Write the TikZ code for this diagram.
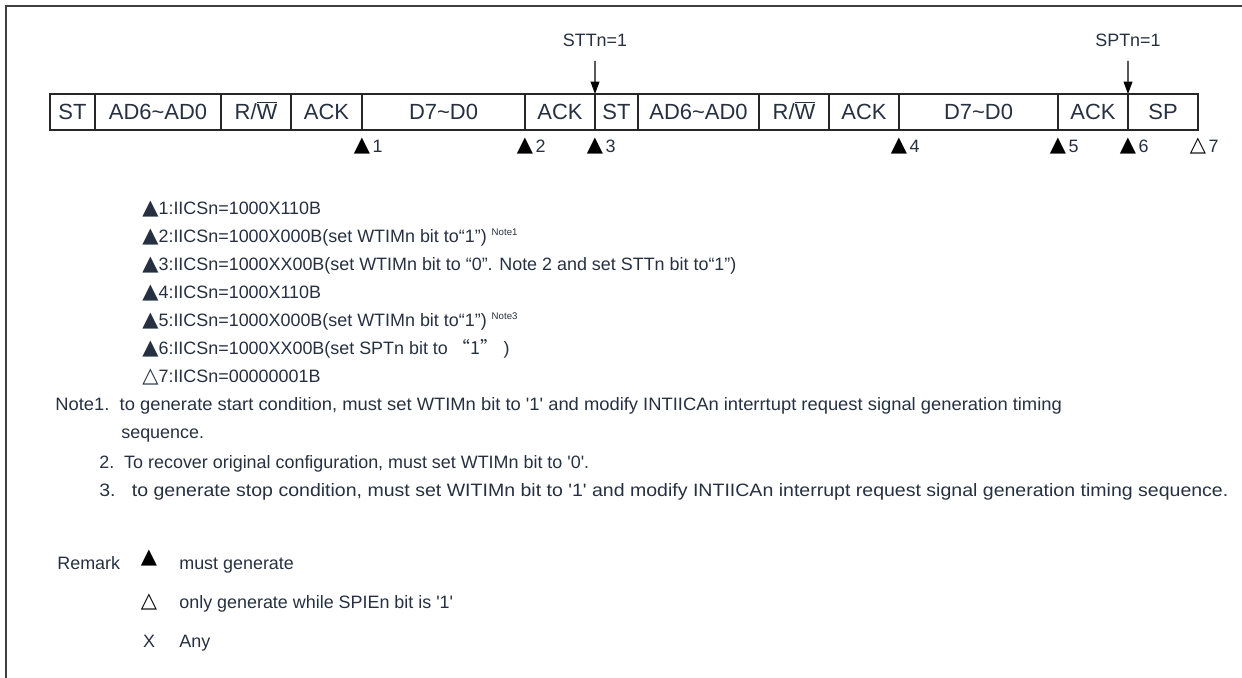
\documentclass[tikz,border=0pt]{standalone}
\usepackage{fontspec}
\setmainfont{Liberation Sans}[Ligatures=TeXOff]
\newfontfamily\sym{DejaVu Sans}
\newfontfamily\cjk{Noto Sans CJK SC}
\usetikzlibrary{arrows.meta, positioning}
\definecolor{ink}{RGB}{38,48,64}
\newcommand\tri[1]{{\sym\fontsize{12}{12}\selectfont #1}}

\begin{document}
\begin{tikzpicture}[x=0.02cm, y=-0.02cm,
        seg/.style={draw=black!85, line width=0.6pt, minimum height=0.72cm, inner sep=0pt, outer sep=0pt, text=ink, font=\fontsize{12.5}{14}\selectfont, text height=9pt, text depth=0pt},
        txt/.style={anchor=west, inner sep=0pt, text=ink, font=\fontsize{10.2}{12}\selectfont, text height=7.3pt, text depth=0pt},
        mk/.style={inner sep=0pt, text=black, font=\sym\fontsize{12}{12}\selectfont},
        arr/.style={-{Triangle[length=7pt, width=5pt]}, line width=0.6pt}
      ]
        \useasboundingbox (0,0) rectangle (1242,678);
        \draw[line width=0.8pt, black!75] (6,678) -- (6,6) -- (1242,6);

        % frame sequence
        \node[seg, minimum width=0.90cm] (st1) at (72.5,112) {ST};
        \node[seg, minimum width=2.52cm] (ad1) at (158,112) {AD6\textasciitilde AD0};
        \node[seg, minimum width=1.40cm] (rw1) at (256,112) {R/$\overline{\hbox{W}}$};
        \node[seg, minimum width=1.42cm] (ak1) at (326.5,112) {ACK};
        \node[seg, minimum width=3.26cm] (d1) at (443.5,112) {D7\textasciitilde D0};
        \node[seg, minimum width=1.40cm] (ak2) at (560,112) {ACK};
        \node[seg, minimum width=0.86cm] (st2) at (616.5,112) {ST};
        \node[seg, minimum width=2.42cm] (ad2) at (698.5,112) {AD6\textasciitilde AD0};
        \node[seg, minimum width=1.40cm] (rw2) at (794,112) {R/$\overline{\hbox{W}}$};
        \node[seg, minimum width=1.40cm] (ak3) at (864,112) {ACK};
        \node[seg, minimum width=3.18cm] (d2) at (978.5,112) {D7\textasciitilde D0};
        \node[seg, minimum width=1.40cm] (ak4) at (1093,112) {ACK};
        \node[seg, minimum width=1.40cm] (sp) at (1163,112) {SP};

        \node[txt, anchor=center] (stt) at (595,40) {STTn=1};
        \node[txt, anchor=center] (spt) at (1128,40) {SPTn=1};
        \draw[arr, shorten <=8pt] (stt) -- (st2.north west);
        \draw[arr, shorten <=8pt] (spt) -- (sp.north west);

        % interrupt points
        \foreach \i/\x in {1/362, 2/525, 3/595, 4/899, 5/1058, 6/1128} {
          \node[mk] (t\i) at (\x,146) {▲};
          \node[txt, right=1pt of t\i] (k\i) {\i};
        }
        \node[mk] (t7) at (1198,146) {△};
        \node[txt, right=1pt of t7] (k7) {7};

        % register settings
        \node[txt] (l1) at (142,208) {\tri{▲}1:IICSn=1000X110B};
        \node[txt] (l2) at (142,236) {\tri{▲}2:IICSn=1000X000B(set WTIMn bit to“1”) \raisebox{4pt}{\fontsize{5.5}{6}\selectfont Note1}};
        \node[txt] (l3) at (142,264) {\tri{▲}3:IICSn=1000XX00B(set WTIMn bit to “0”. Note 2 and set STTn bit to“1”)};
        \node[txt] (l4) at (142,292) {\tri{▲}4:IICSn=1000X110B};
        \node[txt] (l5) at (142,320) {\tri{▲}5:IICSn=1000X000B(set WTIMn bit to“1”) \raisebox{4pt}{\fontsize{5.5}{6}\selectfont Note3}};
        \node[txt] (l6) at (142,348) {\tri{▲}6:IICSn=1000XX00B(set SPTn bit to {\cjk “1”} )};
        \node[txt] (l7) at (142,376) {\tri{△}7:IICSn=00000001B};

        % notes
        \node[txt] (n1) at (55,404) {\scalebox{1.025}[1]{Note1.\ \ to generate start condition, must set WTIMn bit to '1' and modify INTIICAn interrtupt request signal generation timing}};
        \node[txt] (n1b) at (121,432) {sequence.};
        \node[txt] (n2) at (99,462) {2.\ \ To recover original configuration, must set WTIMn bit to '0'.};
        \node[txt] (n3) at (99,490) {\scalebox{1.09}[1]{3.\ \ \ to generate stop condition, must set WITIMn bit to '1' and modify INTIICAn interrupt request signal generation timing sequence.}};

        % remark
        \node[txt] (rm) at (57,563) {Remark};
        \node[mk] (rs1) at (149,558) {▲};
        \node[txt] (rt1) at (179,563) {must generate};
        \node[mk] (rs2) at (149,602) {△};
        \node[txt] (rt2) at (179,602) {only generate while SPIEn bit is '1'};
        \node[txt, anchor=center] (rs3) at (149,641) {X};
        \node[txt] (rt3) at (179,641) {Any};
      \end{tikzpicture}
\end{document}
